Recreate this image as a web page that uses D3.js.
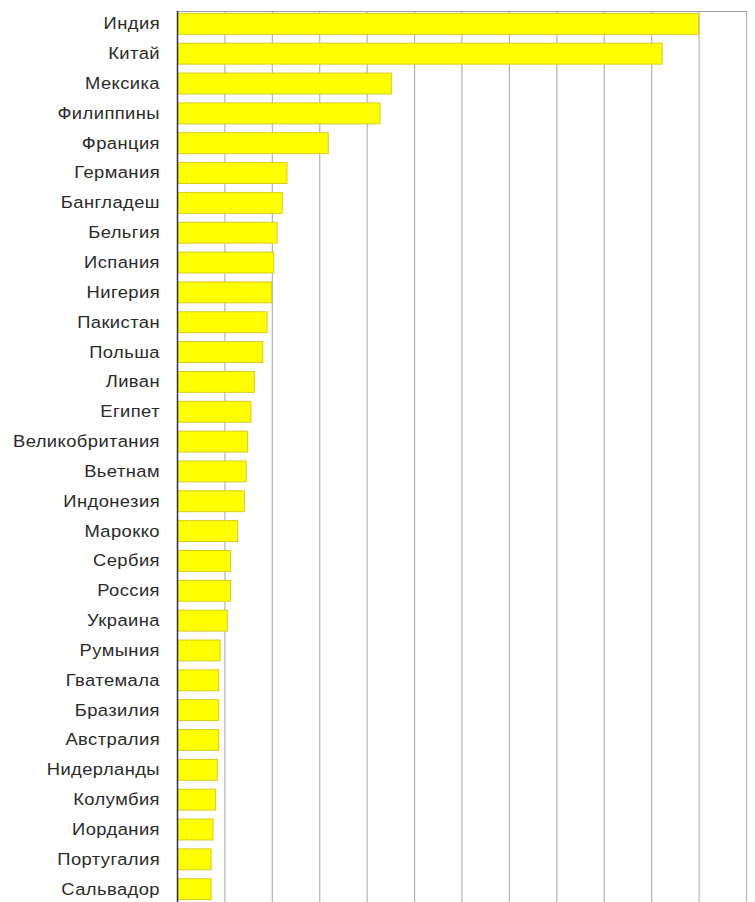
<!DOCTYPE html>
<html>
<head>
<meta charset="utf-8">
<script src="https://cdn.jsdelivr.net/npm/d3@7"></script>
<style>
  html, body { margin: 0; padding: 0; background: #ffffff; }
  svg { display: block; }
</style>
</head>
<body>
<svg id="chart" width="755" height="902"></svg>
<script>
const countries = ["Индия","Китай","Мексика","Филиппины","Франция","Германия","Бангладеш","Бельгия","Испания","Нигерия","Пакистан","Польша","Ливан","Египет","Великобритания","Вьетнам","Индонезия","Марокко","Сербия","Россия","Украина","Румыния","Гватемала","Бразилия","Австралия","Нидерланды","Колумбия","Иордания","Португалия","Сальвадор"];
const values = [11.0,10.23,4.52,4.28,3.19,2.32,2.22,2.11,2.04,1.99,1.90,1.81,1.63,1.56,1.49,1.46,1.42,1.28,1.13,1.13,1.06,0.91,0.88,0.88,0.88,0.85,0.81,0.76,0.72,0.72];
const gridTicks = [0,1,2,3,4,5,6,7,8,9,10,11,12];

const svg = d3.select("#chart");
const mLeft = 177, mRight = 746, mTop = 11, mBottom = 902;

const x = d3.scaleLinear().domain([0, 12]).range([mLeft, mRight]);
const y = d3.scaleBand().domain(countries).range([mTop, mBottom])
  .paddingInner(0.3).paddingOuter(0.08);

// gridlines
svg.append("g").selectAll("line").data(gridTicks.slice(1)).join("line")
  .attr("x1", d => x(d) + 0.5).attr("x2", d => x(d) + 0.5)
  .attr("y1", mTop).attr("y2", 902)
  .attr("stroke", "#b4b4b4").attr("stroke-width", 1.2);

// top frame
svg.append("line").attr("x1", mLeft).attr("x2", mRight + 1).attr("y1", mTop + 0.5).attr("y2", mTop + 0.5)
  .attr("stroke", "#a0a0a0").attr("stroke-width", 1.2);

// bars
svg.append("g").selectAll("rect").data(countries).join("rect")
  .attr("x", x(0) + 1)
  .attr("y", d => y(d))
  .attr("width", (d, i) => x(values[i]) - x(0) - 1)
  .attr("height", y.bandwidth())
  .attr("fill", "#ffff00")
  .attr("stroke", "#d9cc1a").attr("stroke-width", 1);

// left axis line
svg.append("line").attr("x1", mLeft + 0.5).attr("x2", mLeft + 0.5).attr("y1", mTop).attr("y2", 902)
  .attr("stroke", "#333333").attr("stroke-width", 1.5);

// labels
const yAxis = d3.axisLeft(y).tickSize(0).tickPadding(0);
const ga = svg.append("g").attr("transform", `translate(160,0)`).call(yAxis);
ga.select(".domain").remove();
ga.selectAll(".tick").each(function() {
  const t = d3.select(this).attr("transform");
  d3.select(this).attr("transform", t + " scale(1.08,1)");
});
ga.selectAll("text")
  .attr("font-family", "'Liberation Sans', Arial, sans-serif")
  .attr("font-size", 17)
  .attr("letter-spacing", 0.4)
  .attr("fill", "#2a2a2a");
</script>
</body>
</html>
